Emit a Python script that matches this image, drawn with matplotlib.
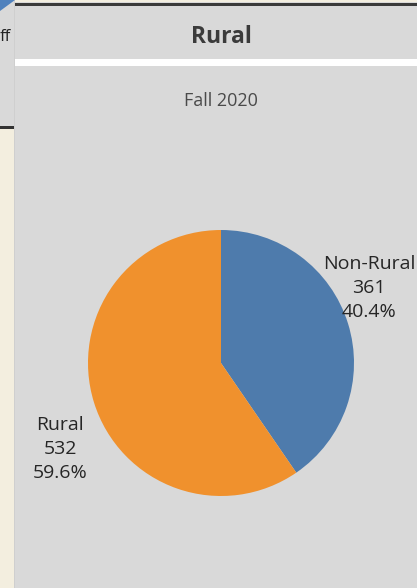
import matplotlib.pyplot as plt
from matplotlib.patches import Rectangle, Polygon

labels = ["Non-Rural", "Rural"]
counts = [361, 532]
colors = ["#4e7bac", "#f0912d"]
title = "Rural"
subtitle = "Fall 2020"

W, H = 417, 588
fig = plt.figure(figsize=(W / 100, H / 100), dpi=100)
fig.patch.set_facecolor("#d9d9d9")
plt.rcParams['font.family'] = ['Open Sans', 'DejaVu Sans']


def px(x, y):
    return x / W, 1 - y / H


def px_rect(x0, y0, x1, y1, color, z=0):
    # rectangle in pixel coords (origin top-left)
    fig.patches.append(Rectangle(px(x0, y1), (x1 - x0) / W, (y1 - y0) / H,
                                 transform=fig.transFigure, color=color, zorder=z, lw=0))


# left neighbour strip
px_rect(0, 129, 14, H, "#f3eedf")
px_rect(0, 126, 14, 129, "#333333", 1)
px_rect(14, 0, W, 2, "#f3eedf")
px_rect(14, 3, W, 6, "#3a3a3a", 1)
px_rect(14, 59, W, 66, "#ffffff", 1)
px_rect(14, 0, 15, H, "#cfcfcf", 1)
fig.patches.append(Polygon([px(0, 0), px(15, 0), px(0, 11)], closed=True,
                           transform=fig.transFigure, color="#4f81bd", zorder=2, lw=0))
fig.text(0, 1 - 37 / H, "ff", fontsize=12, color="#222222", va="center", ha="left")

fig.text(221 / W, 1 - 37 / H, title, fontsize=16.5, fontweight="bold", color="#3b3b3b",
         ha="center", va="center")
fig.text(221 / W, 1 - 101 / H, subtitle, fontsize=13, color="#4a4a4a",
         ha="center", va="center")

cx, cy, r = 221, 363, 133
ax = fig.add_axes([(cx - r) / W, 1 - (cy + r) / H, 2 * r / W, 2 * r / H])
ax.axis("off")
ax.pie(counts, colors=colors, startangle=90, counterclock=False, radius=1,
       wedgeprops=dict(linewidth=0))
ax.set_xlim(-1, 1)
ax.set_ylim(-1, 1)
ax.set_aspect("auto")

total = sum(counts)
pos = [(1.115, 0.564), (-1.21, -0.647)]
for lab, c, (x, y) in zip(labels, counts, pos):
    ax.text(x, y, f"{lab}\n{c}\n{c / total * 100:.1f}%", ha="center", va="center",
            fontsize=14, color="#262626", linespacing=1.45, clip_on=False)

fig.savefig("out.png", dpi=100, facecolor=fig.get_facecolor())
